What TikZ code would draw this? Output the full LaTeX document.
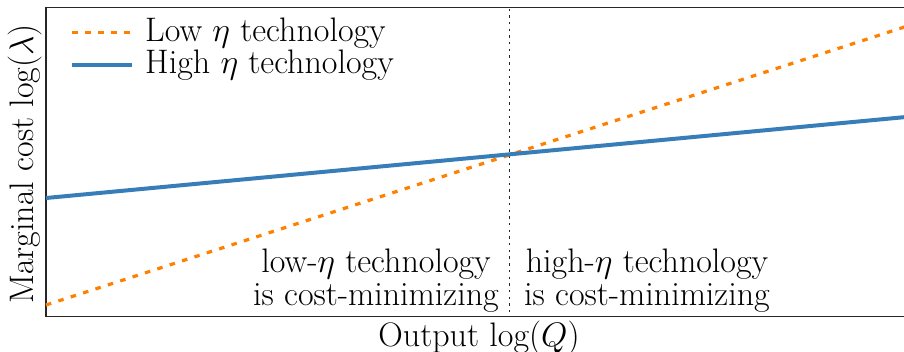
\RequirePackage{fix-cm}
\documentclass[tikz,border=0pt]{standalone}
\usepackage{fontspec}
\definecolor{lowc}{HTML}{FF7F00}
\definecolor{highc}{HTML}{377EB8}
\tikzset{
  lbl/.style={inner sep=0pt, font=\fontsize{34}{40}\selectfont},
  lowline/.style={draw=lowc, line width=3.2pt, dash pattern=on 5.5pt off 7.5pt},
  highline/.style={draw=highc, line width=4pt},
  divline/.style={draw=black!85, line width=1.4pt, dash pattern=on 2.4pt off 4.3pt},
  axisbox/.style={draw=black!85, line width=1.8pt}
}
\begin{document}
\begin{tikzpicture}[x=1pt,y=-1pt]
\useasboundingbox (0,0) rectangle (904,351);
\clip (0,0) rectangle (904,351);
% plot box (right side lies just beyond the picture)
\draw[axisbox] (914,7.5) -- (46,7.5) -- (46,316.5) -- (914,316.5);
% coordinates of the lines
\coordinate (lowA) at (46,305);
\coordinate (lowB) at (906,26.5);
\coordinate (highA) at (46,198);
\coordinate (highB) at (906,117);
\coordinate (divT) at (509.5,8.5);
\coordinate (divB) at (509.5,315.5);
\draw[divline] (divT) -- (divB);
\draw[lowline] (lowA) -- (lowB);
\draw[highline] (highA) -- (highB);
% legend
\coordinate (legLowA) at (72,32.3);
\coordinate (legLowB) at (132,32.3);
\coordinate (legHighA) at (72,65);
\coordinate (legHighB) at (132,65);
\draw[lowline] (legLowA) -- (legLowB);
\draw[highline] (legHighA) -- (legHighB);
\node[lbl, anchor=base west] (legLowT) at (145,41.7) {Low $\eta$ technology};
\node[lbl, anchor=base west] (legHighT) at (145,73.3) {High $\eta$ technology};
% region labels
\node[lbl, anchor=base] (loA) at (376,272.3) {low-$\eta$ technology};
\node[lbl, anchor=base] (loB) at (376,305.7) {is cost-minimizing};
\node[lbl, anchor=base] (hiA) at (647,272.3) {high-$\eta$ technology};
\node[lbl, anchor=base] (hiB) at (647,305.7) {is cost-minimizing};
% axis labels
\node[lbl, anchor=base] (xlab) at (479,346) {Output $\log(Q)$};
\node[lbl, anchor=base, rotate=90] (ylab) at (33,164) {Marginal cost $\log(\lambda)$};
\end{tikzpicture}
\end{document}
